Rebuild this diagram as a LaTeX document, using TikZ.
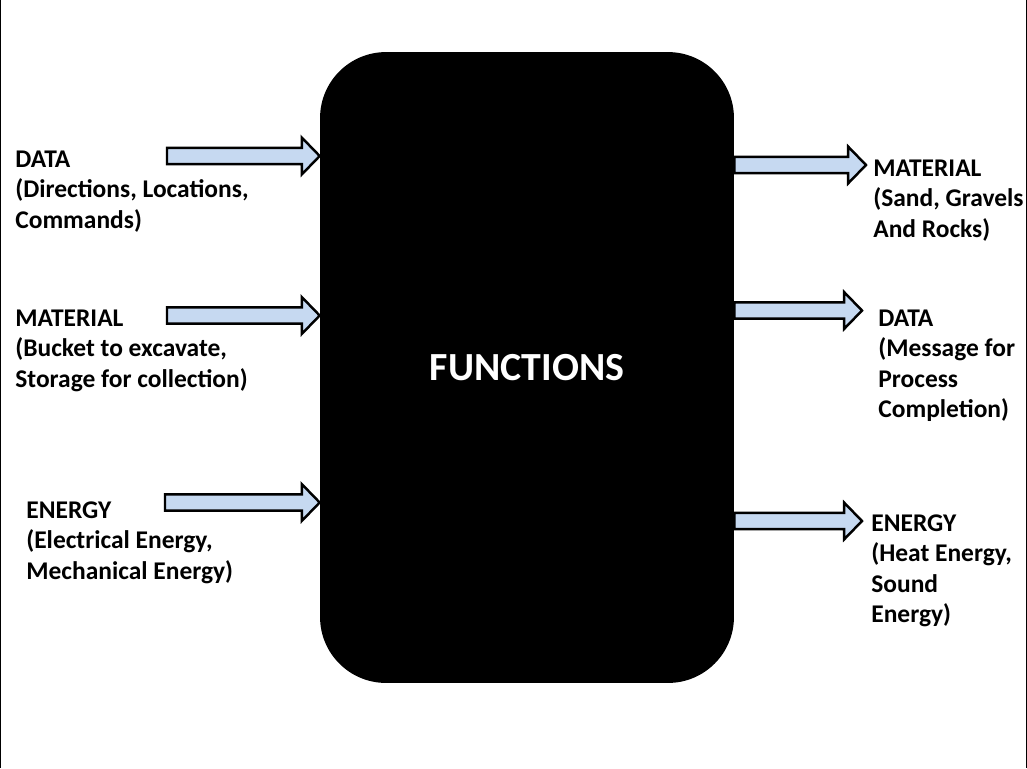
\documentclass[tikz,border=0pt]{standalone}
\usepackage{fontspec}
\setmainfont{Carlito}
\usetikzlibrary{calc}

\definecolor{arrowblue}{RGB}{198,217,241}

\tikzset{
	funcbox/.style={fill=black, rounded corners=1.32cm, minimum width=8.28cm, minimum height=12.62cm, inner sep=0pt, text=white, font=\fontsize{22.7}{27}\selectfont\bfseries},
	flowlabel/.style={anchor=base west, align=left, inner sep=0pt, font=\fontsize{14.5}{17.3}\selectfont\bfseries},
	flowarrow/.style={draw=black, fill=arrowblue, line width=1.4pt, line join=miter},
}

% block arrow from #1 to #2 (horizontal, tip at #2)
\newcommand{\blockarrow}[2]{%
	\draw[flowarrow] let \p1=(#1), \p2=(#2) in
		(\x1,\y1+4.6pt) -- (\x2-10.2pt,\y1+4.6pt) -- (\x2-10.2pt,\y1+10.5pt) -- (\x2,\y1)
		-- (\x2-10.2pt,\y1-10.5pt) -- (\x2-10.2pt,\y1-4.6pt) -- (\x1,\y1-4.6pt) -- cycle;}

\begin{document}
\begin{tikzpicture}[x=0.02cm, y=-0.02cm]
	\useasboundingbox (0,0) rectangle (1027,768);
	\draw[line width=1pt] (0.6,0) -- (0.6,768);
	\draw[line width=1pt] (1026.4,0) -- (1026.4,768);

	\node[funcbox] (func) at (527,367.5) {FUNCTIONS};

	% inputs (placed at the baseline of the last line)
	\node[flowlabel] (dataIn) at (15,228) {DATA\\(Directions, Locations,\\Commands)};
	\node[flowlabel] (matIn) at (15,387) {MATERIAL\\(Bucket to excavate,\\Storage for collection)};
	\node[flowlabel] (energyIn) at (26,579) {ENERGY\\(Electrical Energy,\\Mechanical Energy)};

	\coordinate (dataInTail) at (167,156);
	\coordinate (matInTail) at (167,315.5);
	\coordinate (energyInTail) at (165,502.5);
	\blockarrow{dataInTail}{dataInTail -| func.west}
	\blockarrow{matInTail}{matInTail -| func.west}
	\blockarrow{energyInTail}{energyInTail -| func.west}

	% outputs
	\coordinate (matOutTip) at (866,165);
	\coordinate (dataOutTip) at (862,310.5);
	\coordinate (energyOutTip) at (862,521);
	\blockarrow{func.east |- matOutTip}{matOutTip}
	\blockarrow{func.east |- dataOutTip}{dataOutTip}
	\blockarrow{func.east |- energyOutTip}{energyOutTip}

	\node[flowlabel] (matOut) at (873,237) {MATERIAL\\(Sand, Gravels\\And Rocks)};
	\node[flowlabel] (dataOut) at (878,417.5) {DATA\\(Message for\\Process\\Completion)};
	\node[flowlabel] (energyOut) at (871,622.5) {ENERGY\\(Heat Energy,\\Sound\\Energy)};
\end{tikzpicture}
\end{document}
